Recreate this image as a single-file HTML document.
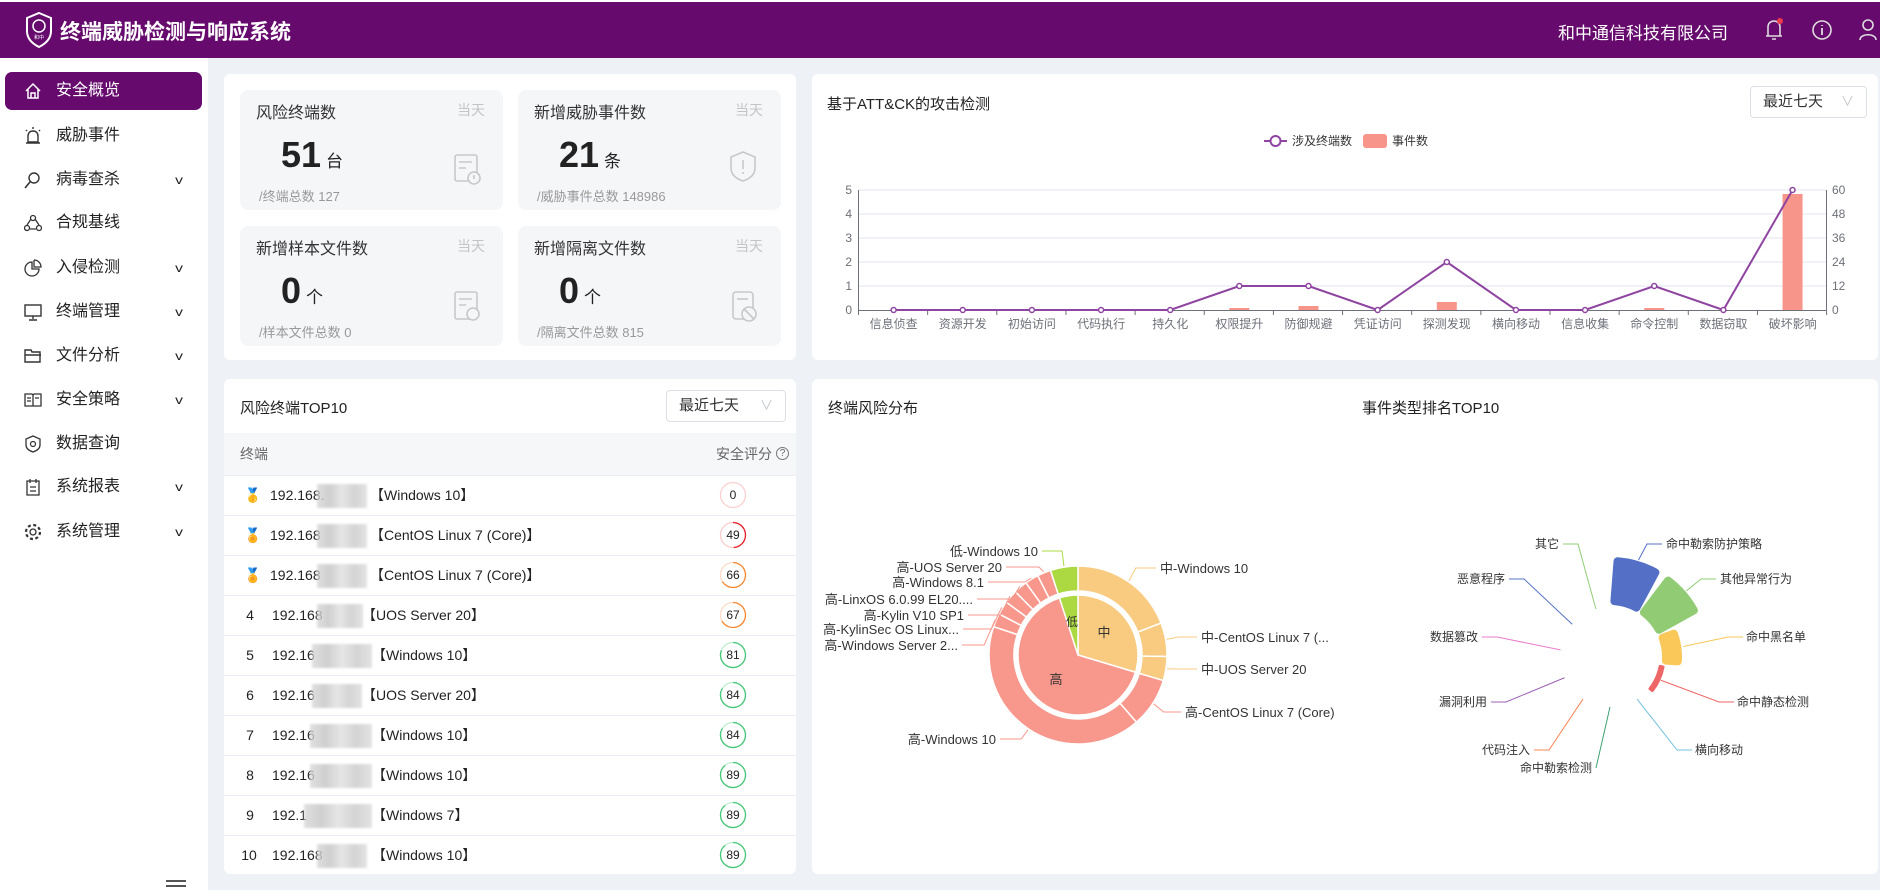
<!DOCTYPE html>
<html><head><meta charset="utf-8">
<style>
*{margin:0;padding:0;box-sizing:border-box}
body{width:1880px;height:890px;background:#eef1f5;font-family:"Liberation Sans","Noto Sans CJK SC",sans-serif;color:#333;position:relative;overflow:hidden}
.abs{position:absolute}
.hdr{left:0;top:2px;width:1880px;height:56px;background:#660a6e;color:#fff}
.side{left:0;top:58px;width:208px;height:832px;background:#fff}
.mi{position:absolute;left:5px;width:197px;height:38px;font-size:16px;line-height:38px;padding-left:51px;color:#222}
.mi.act{background:#660a6e;color:#fff;border-radius:7px}
.mi .ic{position:absolute;left:19px;top:10px;width:18px;height:18px}
.mi .ch{position:absolute;left:171px;top:0;font-size:12px;transform:scaleX(1.3)}
.card{background:#fff;border-radius:6px;position:absolute}
.sb{position:absolute;background:#f5f6f8;border-radius:8px;width:263px;height:120px}
.sb .t{position:absolute;left:16px;top:9px;font-size:16px;color:#333}
.sb .d{position:absolute;right:18px;top:10px;font-size:14px;color:#c4c4c4}
.sb .n{position:absolute;left:41px;top:44px;font-size:36px;font-weight:bold;color:#222}
.sb .n span{font-size:17px;font-weight:normal;margin-left:5px}
.sb .s{position:absolute;left:19px;top:96px;font-size:13px;color:#999}
.sel{position:absolute;border:1px solid #dcdfe6;border-radius:4px;font-size:15px;line-height:30px;padding-left:12px;color:#333;background:#fff}
.sel:after{content:"∨";position:absolute;right:12px;top:0;color:#c0c4cc;font-size:13px}
.row{position:absolute;left:224px;width:572px;height:40px;border-top:1px solid #ebeef5;font-size:14px;color:#222;line-height:39px}
.row .rk{position:absolute;left:20px;width:12px;text-align:center}
.row .ip{position:absolute;left:46px}
.blur{position:absolute;top:8px;height:24px;background:linear-gradient(90deg,#d8d8d8,#c4c4c4,#e0e0e0,#cacaca,#dcdcdc);filter:blur(1px);opacity:.8}
.ttl{position:absolute;font-size:15px;color:#222}
svg text{font-family:"Liberation Sans","Noto Sans CJK SC",sans-serif}
</style></head><body>
<div class="abs" style="left:0;top:0;width:1880px;height:2px;background:#fff"></div>
<div class="abs hdr">
  <svg class="abs" style="left:24px;top:9px" width="30" height="38" viewBox="0 0 30 38"><path d="M15 2 L27 7 L27 20 C27 28 21 33 15 36 C9 33 3 28 3 20 L3 7 Z" fill="none" stroke="#fff" stroke-width="2"/><circle cx="15" cy="15" r="6" fill="none" stroke="#fff" stroke-width="1.5"/><text x="15" y="28" font-size="5" fill="#fff" text-anchor="middle">和中</text></svg>
  <div class="abs" style="left:60px;top:14px;font-size:21px;font-weight:bold;letter-spacing:0px">终端威胁检测与响应系统</div>
  <div class="abs" style="left:1558px;top:17px;font-size:17px">和中通信科技有限公司</div>
  <svg class="abs" style="left:1762px;top:14px" width="118" height="28" viewBox="0 0 118 28">
    <path d="M6 20 L6 11 C6 7 9 5 12 5 C15 5 18 7 18 11 L18 20 Z M4 20 L20 20 M10 23 L14 23" fill="none" stroke="#ddd" stroke-width="1.6"/><circle cx="18" cy="5" r="3" fill="#f0394d"/>
    <circle cx="60" cy="14" r="9" fill="none" stroke="#ddd" stroke-width="1.6"/><path d="M60 12 L60 19 M60 9 L60 10" stroke="#ddd" stroke-width="1.8"/>
    <circle cx="106" cy="9" r="5" fill="none" stroke="#ddd" stroke-width="1.6"/><path d="M98 24 C98 17 114 17 114 24" fill="none" stroke="#ddd" stroke-width="1.6"/>
  </svg>
</div>
<div class="abs side">
  <div class="mi act" style="top:14px"><svg class="ic" viewBox="0 0 18 18"><path d="M2 9 L9 2 L16 9 M4 7 L4 16 L14 16 L14 7 M7 16 L7 11 L11 11 L11 16" fill="none" stroke="#fff" stroke-width="1.5"/></svg>安全概览</div>
  <div class="mi" style="top:59px"><svg class="ic" viewBox="0 0 18 18"><path d="M4 15 L4 9 C4 6 6 4 9 4 C12 4 14 6 14 9 L14 15 Z M2 16 L16 16 M9 0 L9 2 M2 3 L3 4 M16 3 L15 4" fill="none" stroke="#333" stroke-width="1.4"/></svg>威胁事件</div>
  <div class="mi" style="top:103px"><svg class="ic" viewBox="0 0 18 18"><circle cx="10" cy="7" r="5" fill="none" stroke="#333" stroke-width="1.4"/><path d="M6 11 L1 17" stroke="#333" stroke-width="1.6"/></svg>病毒查杀<span class="ch">v</span></div>
  <div class="mi" style="top:146px"><svg class="ic" viewBox="0 0 18 18"><circle cx="9" cy="4" r="2.5" fill="none" stroke="#333" stroke-width="1.3"/><circle cx="3" cy="14" r="2.5" fill="none" stroke="#333" stroke-width="1.3"/><circle cx="15" cy="14" r="2.5" fill="none" stroke="#333" stroke-width="1.3"/><path d="M7 5 L3 11 M11 5 L15 11 M6 15 L12 15" stroke="#333" stroke-width="1.3"/></svg>合规基线</div>
  <div class="mi" style="top:191px"><svg class="ic" viewBox="0 0 18 18"><path d="M8 3 A7 7 0 1 0 15 10 L8 10 Z M10 1 L10 8 L17 8 A7 7 0 0 0 10 1" fill="none" stroke="#333" stroke-width="1.3"/></svg>入侵检测<span class="ch">v</span></div>
  <div class="mi" style="top:235px"><svg class="ic" viewBox="0 0 18 18"><rect x="1" y="2" width="16" height="11" fill="none" stroke="#333" stroke-width="1.4"/><path d="M9 13 L9 16 M5 17 L13 17" stroke="#333" stroke-width="1.4"/></svg>终端管理<span class="ch">v</span></div>
  <div class="mi" style="top:279px"><svg class="ic" viewBox="0 0 18 18"><path d="M1 3 L7 3 L8 5 L16 5 L16 15 L1 15 Z M1 8 L17 8" fill="none" stroke="#333" stroke-width="1.4"/></svg>文件分析<span class="ch">v</span></div>
  <div class="mi" style="top:323px"><svg class="ic" viewBox="0 0 18 18"><path d="M1 3 L8 3 L9 4 L10 3 L17 3 L17 15 L1 15 Z M9 4 L9 15 M3 7 L7 7 M3 10 L7 10 M11 7 L15 7" fill="none" stroke="#333" stroke-width="1.3"/></svg>安全策略<span class="ch">v</span></div>
  <div class="mi" style="top:367px"><svg class="ic" viewBox="0 0 18 18"><path d="M9 1 L16 4 L16 10 C16 14 12 16 9 17 C6 16 2 14 2 10 L2 4 Z" fill="none" stroke="#333" stroke-width="1.3"/><circle cx="9" cy="9" r="2.5" fill="none" stroke="#333" stroke-width="1.2"/></svg>数据查询</div>
  <div class="mi" style="top:410px"><svg class="ic" viewBox="0 0 18 18"><path d="M3 3 L15 3 L15 17 L3 17 Z M6 1 L6 5 M12 1 L12 5 M6 9 L12 9 M6 13 L12 13" fill="none" stroke="#333" stroke-width="1.3"/></svg>系统报表<span class="ch">v</span></div>
  <div class="mi" style="top:455px"><svg class="ic" viewBox="0 0 18 18"><circle cx="9" cy="9" r="3" fill="none" stroke="#333" stroke-width="1.3"/><circle cx="9" cy="9" r="7" fill="none" stroke="#333" stroke-width="2.2" stroke-dasharray="3 2.5"/></svg>系统管理<span class="ch">v</span></div>
  <div class="abs" style="left:166px;top:822px;width:20px;height:2px;background:#555;box-shadow:0 5px 0 #555,0 10px 0 #555"></div>
</div>

<!-- stats card -->
<div class="card" style="left:224px;top:74px;width:572px;height:286px"></div>
<div class="sb" style="left:240px;top:90px"><div class="t">风险终端数</div><div class="d">当天</div><div class="n">51<span>台</span></div><div class="s">/终端总数 127</div></div>
<div class="sb" style="left:518px;top:90px"><div class="t">新增威胁事件数</div><div class="d">当天</div><div class="n">21<span>条</span></div><div class="s">/威胁事件总数 148986</div></div>
<div class="sb" style="left:240px;top:226px"><div class="t">新增样本文件数</div><div class="d">当天</div><div class="n">0<span>个</span></div><div class="s">/样本文件总数 0</div></div>
<div class="sb" style="left:518px;top:226px"><div class="t">新增隔离文件数</div><div class="d">当天</div><div class="n">0<span>个</span></div><div class="s">/隔离文件总数 815</div></div>
<svg class="abs" style="left:0;top:0" width="800" height="360">
 <g fill="none" stroke="#c8c8c8" stroke-width="1.6">
  <rect x="455" y="155" width="22" height="26" rx="2"/><path d="M459 162 L472 162 M459 168 L466 168"/><circle cx="474" cy="178" r="6" fill="#f5f6f8"/><path d="M474 175 L474 179"/>
  <path d="M743 152 L755 157 L755 168 C755 175 749 179 743 181 C737 179 731 175 731 168 L731 157 Z"/><path d="M743 160 L743 169 M743 172 L743 174"/>
  <rect x="455" y="292" width="22" height="27" rx="2"/><path d="M459 299 L472 299 M459 305 L466 305"/><circle cx="473" cy="314" r="6" fill="#f5f6f8"/>
  <rect x="733" y="292" width="20" height="27" rx="3"/><path d="M737 299 L748 299"/><circle cx="749" cy="314" r="7" fill="#f5f6f8"/><path d="M744 309 L754 319"/>
 </g>
</svg>

<!-- ATT card -->
<div class="card" style="left:812px;top:74px;width:1066px;height:286px"></div>
<div class="ttl" style="left:827px;top:93px">基于ATT&amp;CK的攻击检测</div>
<div class="sel" style="left:1750px;top:86px;width:117px;height:32px">最近七天</div>

<!-- top10 -->
<div class="card" style="left:224px;top:379px;width:572px;height:495px"></div>
<div class="ttl" style="left:240px;top:397px">风险终端TOP10</div>
<div class="sel" style="left:666px;top:390px;width:120px;height:32px">最近七天</div>
<div class="abs" style="left:224px;top:433px;width:572px;height:42px;background:#f6f7f9;font-size:14px;color:#666;line-height:42px"><span style="position:absolute;left:16px">终端</span><span style="position:absolute;right:24px">安全评分</span><span style="position:absolute;right:7px;top:14px;width:13px;height:13px;border:1px solid #777;border-radius:50%;font-size:10px;line-height:11px;text-align:center">?</span></div>
<div class="row" style="top:475px"><span class="rk">🥇</span><span class="ip">192.168.</span><div class="blur" style="left:93px;width:50px"></div><span class="ip" style="left:146px">【Windows 10】</span></div>
<div class="row" style="top:515px"><span class="rk" style="color:#f08060">🏅</span><span class="ip">192.168</span><div class="blur" style="left:93px;width:50px"></div><span class="ip" style="left:146px">【CentOS Linux 7 (Core)】</span></div>
<div class="row" style="top:555px"><span class="rk">🏅</span><span class="ip">192.168</span><div class="blur" style="left:93px;width:50px"></div><span class="ip" style="left:146px">【CentOS Linux 7 (Core)】</span></div>
<div class="row" style="top:595px"><span class="rk">4</span><span class="ip" style="left:48px">192.168</span><div class="blur" style="left:93px;width:46px"></div><span class="ip" style="left:138px">【UOS Server 20】</span></div>
<div class="row" style="top:635px"><span class="rk">5</span><span class="ip" style="left:48px">192.16</span><div class="blur" style="left:88px;width:60px"></div><span class="ip" style="left:148px">【Windows 10】</span></div>
<div class="row" style="top:675px"><span class="rk">6</span><span class="ip" style="left:48px">192.16</span><div class="blur" style="left:88px;width:50px"></div><span class="ip" style="left:138px">【UOS Server 20】</span></div>
<div class="row" style="top:715px"><span class="rk">7</span><span class="ip" style="left:48px">192.16</span><div class="blur" style="left:86px;width:62px"></div><span class="ip" style="left:148px">【Windows 10】</span></div>
<div class="row" style="top:755px"><span class="rk">8</span><span class="ip" style="left:48px">192.16</span><div class="blur" style="left:86px;width:62px"></div><span class="ip" style="left:148px">【Windows 10】</span></div>
<div class="row" style="top:795px"><span class="rk">9</span><span class="ip" style="left:48px">192.1</span><div class="blur" style="left:80px;width:68px"></div><span class="ip" style="left:148px">【Windows 7】</span></div>
<div class="row" style="top:835px"><span class="rk" style="left:14px;width:22px">10</span><span class="ip" style="left:48px">192.168</span><div class="blur" style="left:93px;width:50px"></div><span class="ip" style="left:148px">【Windows 10】</span></div>

<!-- bottom right -->
<div class="card" style="left:812px;top:379px;width:1066px;height:495px"></div>
<div class="ttl" style="left:828px;top:397px">终端风险分布</div>
<div class="ttl" style="left:1362px;top:397px">事件类型排名TOP10</div>

<svg id="ov" class="abs" style="left:0;top:0" width="1880" height="890">
 <g stroke="#e0e6f1" stroke-width="1">
  <line x1="858" y1="190" x2="1826" y2="190"/><line x1="858" y1="214" x2="1826" y2="214"/><line x1="858" y1="238" x2="1826" y2="238"/><line x1="858" y1="262" x2="1826" y2="262"/><line x1="858" y1="286" x2="1826" y2="286"/>
 </g>
 <g stroke="#6e7079" stroke-width="1"><line x1="858" y1="310.5" x2="1826" y2="310.5"/><line x1="858.5" y1="190" x2="858.5" y2="310"/><line x1="1826.5" y1="190" x2="1826.5" y2="310"/></g>
 <g id="ticks"></g>
 <g font-size="12" fill="#6e7079" text-anchor="end">
  <text x="852" y="194">5</text><text x="852" y="218">4</text><text x="852" y="242">3</text><text x="852" y="266">2</text><text x="852" y="290">1</text><text x="852" y="314">0</text>
 </g>
 <g font-size="12" fill="#6e7079" text-anchor="start">
  <text x="1832" y="194">60</text><text x="1832" y="218">48</text><text x="1832" y="242">36</text><text x="1832" y="266">24</text><text x="1832" y="290">12</text><text x="1832" y="314">0</text>
 </g>
 <g font-size="12" fill="#6e7079" text-anchor="middle">
  <text x="893.6" y="328">信息侦查</text><text x="962.8" y="328">资源开发</text><text x="1031.9" y="328">初始访问</text><text x="1101.1" y="328">代码执行</text><text x="1170.2" y="328">持久化</text><text x="1239.4" y="328">权限提升</text><text x="1308.5" y="328">防御规避</text><text x="1377.7" y="328">凭证访问</text><text x="1446.8" y="328">探测发现</text><text x="1516" y="328">横向移动</text><text x="1585.1" y="328">信息收集</text><text x="1654.3" y="328">命令控制</text><text x="1723.4" y="328">数据窃取</text><text x="1792.6" y="328">破坏影响</text>
 </g>
 <g id="att"></g>
 <line x1="1264" y1="141" x2="1287" y2="141" stroke="#8e44a0" stroke-width="2"/><circle cx="1275.5" cy="141" r="5" fill="#fff" stroke="#8e44a0" stroke-width="2"/>
 <text x="1292" y="145" font-size="12" fill="#333">涉及终端数</text>
 <rect x="1363" y="134" width="24" height="14" rx="3" fill="#f7958a"/>
 <text x="1392" y="145" font-size="12" fill="#333">事件数</text>
 <g id="pie"></g>
 <g id="rose"></g>
 <g font-size="13" fill="#333">
  <text x="1038" y="556" text-anchor="end">低-Windows 10</text>
  <text x="1002" y="572" text-anchor="end">高-UOS Server 20</text>
  <text x="984" y="587" text-anchor="end">高-Windows 8.1</text>
  <text x="973" y="604" text-anchor="end">高-LinxOS 6.0.99 EL20....</text>
  <text x="964" y="620" text-anchor="end">高-Kylin V10 SP1</text>
  <text x="959" y="634" text-anchor="end">高-KylinSec OS Linux...</text>
  <text x="958" y="650" text-anchor="end">高-Windows Server 2...</text>
  <text x="996" y="744" text-anchor="end">高-Windows 10</text>
  <text x="1160" y="573">中-Windows 10</text>
  <text x="1201" y="642">中-CentOS Linux 7 (...</text>
  <text x="1201" y="674">中-UOS Server 20</text>
  <text x="1185" y="717">高-CentOS Linux 7 (Core)</text>
  <text x="1104" y="637" text-anchor="middle">中</text>
  <text x="1056" y="684" text-anchor="middle">高</text>
  <text x="1072" y="626" text-anchor="middle" font-size="12">低</text>
 </g>
 <g font-size="12" fill="#333">
  <text x="1666" y="548">命中勒索防护策略</text>
  <text x="1720" y="583">其他异常行为</text>
  <text x="1746" y="641">命中黑名单</text>
  <text x="1737" y="706">命中静态检测</text>
  <text x="1695" y="754">横向移动</text>
  <text x="1592" y="772" text-anchor="end">命中勒索检测</text>
  <text x="1530" y="754" text-anchor="end">代码注入</text>
  <text x="1487" y="706" text-anchor="end">漏洞利用</text>
  <text x="1478" y="641" text-anchor="end">数据篡改</text>
  <text x="1505" y="583" text-anchor="end">恶意程序</text>
  <text x="1559" y="548" text-anchor="end">其它</text>
 </g>
 <g id="scores" font-size="12" fill="#222" text-anchor="middle"></g>
</svg>
<script>
var NS="http://www.w3.org/2000/svg";
function el(p,t,a){var e=document.createElementNS(NS,t);for(var k in a)e.setAttribute(k,a[k]);document.getElementById(p).appendChild(e);return e;}
function pt(cx,cy,r,a){a=a*Math.PI/180;return [cx+r*Math.sin(a),cy-r*Math.cos(a)];}
function arc(cx,cy,r0,r1,a0,a1){var L=(a1-a0)>180?1:0;var p1=pt(cx,cy,r1,a0),p2=pt(cx,cy,r1,a1),p3=pt(cx,cy,r0,a1),p4=pt(cx,cy,r0,a0);
 if(r0<=0)return "M"+cx+" "+cy+"L"+p1+"A"+r1+" "+r1+" 0 "+L+" 1 "+p2+"Z";
 return "M"+p1+"A"+r1+" "+r1+" 0 "+L+" 1 "+p2+"L"+p3+"A"+r0+" "+r0+" 0 "+L+" 0 "+p4+"Z";}
var X=function(i){return 893.6+69.15*i};
for(var i=0;i<=14;i++){el("ticks","line",{x1:858.5+69.15*i,y1:310,x2:858.5+69.15*i,y2:315,stroke:"#6e7079"});}
var bars=[0,0,0,0,0,1,2,0,4,0,0,1,0,58];
bars.forEach(function(v,i){if(v)el("att","rect",{x:X(i)-10,y:310-v*2,width:20,height:v*2,fill:"#f7958a"});});
var ln=[0,0,0,0,0,1,1,0,2,0,0,1,0,5];var d="";
ln.forEach(function(v,i){d+=(i?"L":"M")+X(i)+" "+(310-24*v);});
el("att","path",{d:d,fill:"none",stroke:"#8e44a0","stroke-width":2});
ln.forEach(function(v,i){el("att","circle",{cx:X(i),cy:310-24*v,r:2.5,fill:"#fff",stroke:"#8e44a0","stroke-width":1.5});});
var C=[1078,655],Y="#f9cb80",P="#f8978b",G="#acd942";
[[0,106.7,Y],[106.7,342,P],[342,360,G]].forEach(function(s){el("pie","path",{d:arc(C[0],C[1],0,60,s[0],s[1]),fill:s[2],stroke:"#fff","stroke-width":1.5});});
var outs=[[0,69,Y,1160,568,1],[69,91,Y,1201,637,1],[91,106.7,Y,1201,669,1],[106.7,139,P,1185,712,1],[139,288.6,P,996,739,0]];
var a=288.6,ty=[645,629,615,599,582,567];
for(var k=0;k<6;k++){outs.push([a,a+8.9,P,[958,959,964,973,984,1002][k],ty[k],0]);a+=8.9;}
outs.push([342,360,G,1038,551,0]);
outs.forEach(function(s){el("pie","path",{d:arc(C[0],C[1],64,89,s[0],s[1]),fill:s[2],stroke:"#fff","stroke-width":1.5,"stroke-linejoin":"round"});
 var m=(s[0]+s[1])/2,p0=pt(C[0],C[1],90,m),p1=pt(C[0],C[1],102,m);var tx=s[5]?s[3]-4:s[3]+4;
 el("pie","polyline",{points:p0+" "+p1[0]+","+s[4]+" "+tx+","+s[4],fill:"none",stroke:s[2],"stroke-width":1});});
var R=[1610,657],st=360/11;
var rc=[["#5470c6",100],["#91cc75",100],["#fac858",72],["#ee6666",55]];
rc.forEach(function(r,i){var a0=st*i+2.5,a1=st*(i+1)-2.5;
 if(r[1]>60)el("rose","path",{d:arc(R[0],R[1],56,r[1]-4,a0+2,a1-2),fill:r[0],stroke:r[0],"stroke-width":8,"stroke-linejoin":"round"});
 else el("rose","path",{d:arc(R[0],R[1],51,54,a0,a1),fill:r[0],stroke:r[0],"stroke-width":3,"stroke-linejoin":"round"});});
var lab=[["#5470c6",1662,544,1],["#91cc75",1716,579,1],["#fac858",1743,637,1],["#ee6666",1734,702,1],["#73c0de",1692,750,1],["#3ba272",1596,768,0],["#fc8452",1534,750,0],["#9a60b4",1491,702,0],["#ea7ccc",1482,637,0],["#5470c6",1509,579,0],["#91cc75",1563,544,0]];
var lr=[101,101,74,56,50,50,50,50,50,50,50];
lab.forEach(function(l,i){var m=st*i+st/2,p0=pt(R[0],R[1],lr[i],m);var bx=l[3]?l[1]-15:l[1]+15;if(i==5)bx=l[1];
 el("rose","polyline",{points:p0+" "+bx+","+l[2]+" "+l[1]+","+l[2],fill:"none",stroke:l[0],"stroke-width":1});});
var sc=[[0,"#fbd0d0","#f7b0b0",0],[49,"#f9cccc","#e8202a",.49],[66,"#fbdcc6","#f58a32",.66],[67,"#fbdcc6","#f58a32",.67],[81,"#bdebd0","#47c87a",.81],[84,"#bdebd0","#47c87a",.84],[84,"#bdebd0","#47c87a",.84],[89,"#bdebd0","#47c87a",.89],[89,"#bdebd0","#47c87a",.89],[89,"#bdebd0","#47c87a",.89]];
sc.forEach(function(s,i){var cy=495+40*i,cx=733;
 el("scores","circle",{cx:cx,cy:cy,r:12.5,fill:"#fff",stroke:s[1],"stroke-width":1.3});
 if(s[3]>0){var a1=s[3]*360;el("scores","path",{d:"M"+pt(cx,cy,12.5,0)+"A12.5 12.5 0 "+(a1>180?1:0)+" 1 "+pt(cx,cy,12.5,a1-0.01),fill:"none",stroke:s[2],"stroke-width":1.3});}
 var t=el("scores","text",{x:cx,y:cy+4});t.textContent=s[0];});
</script>
</body></html>
